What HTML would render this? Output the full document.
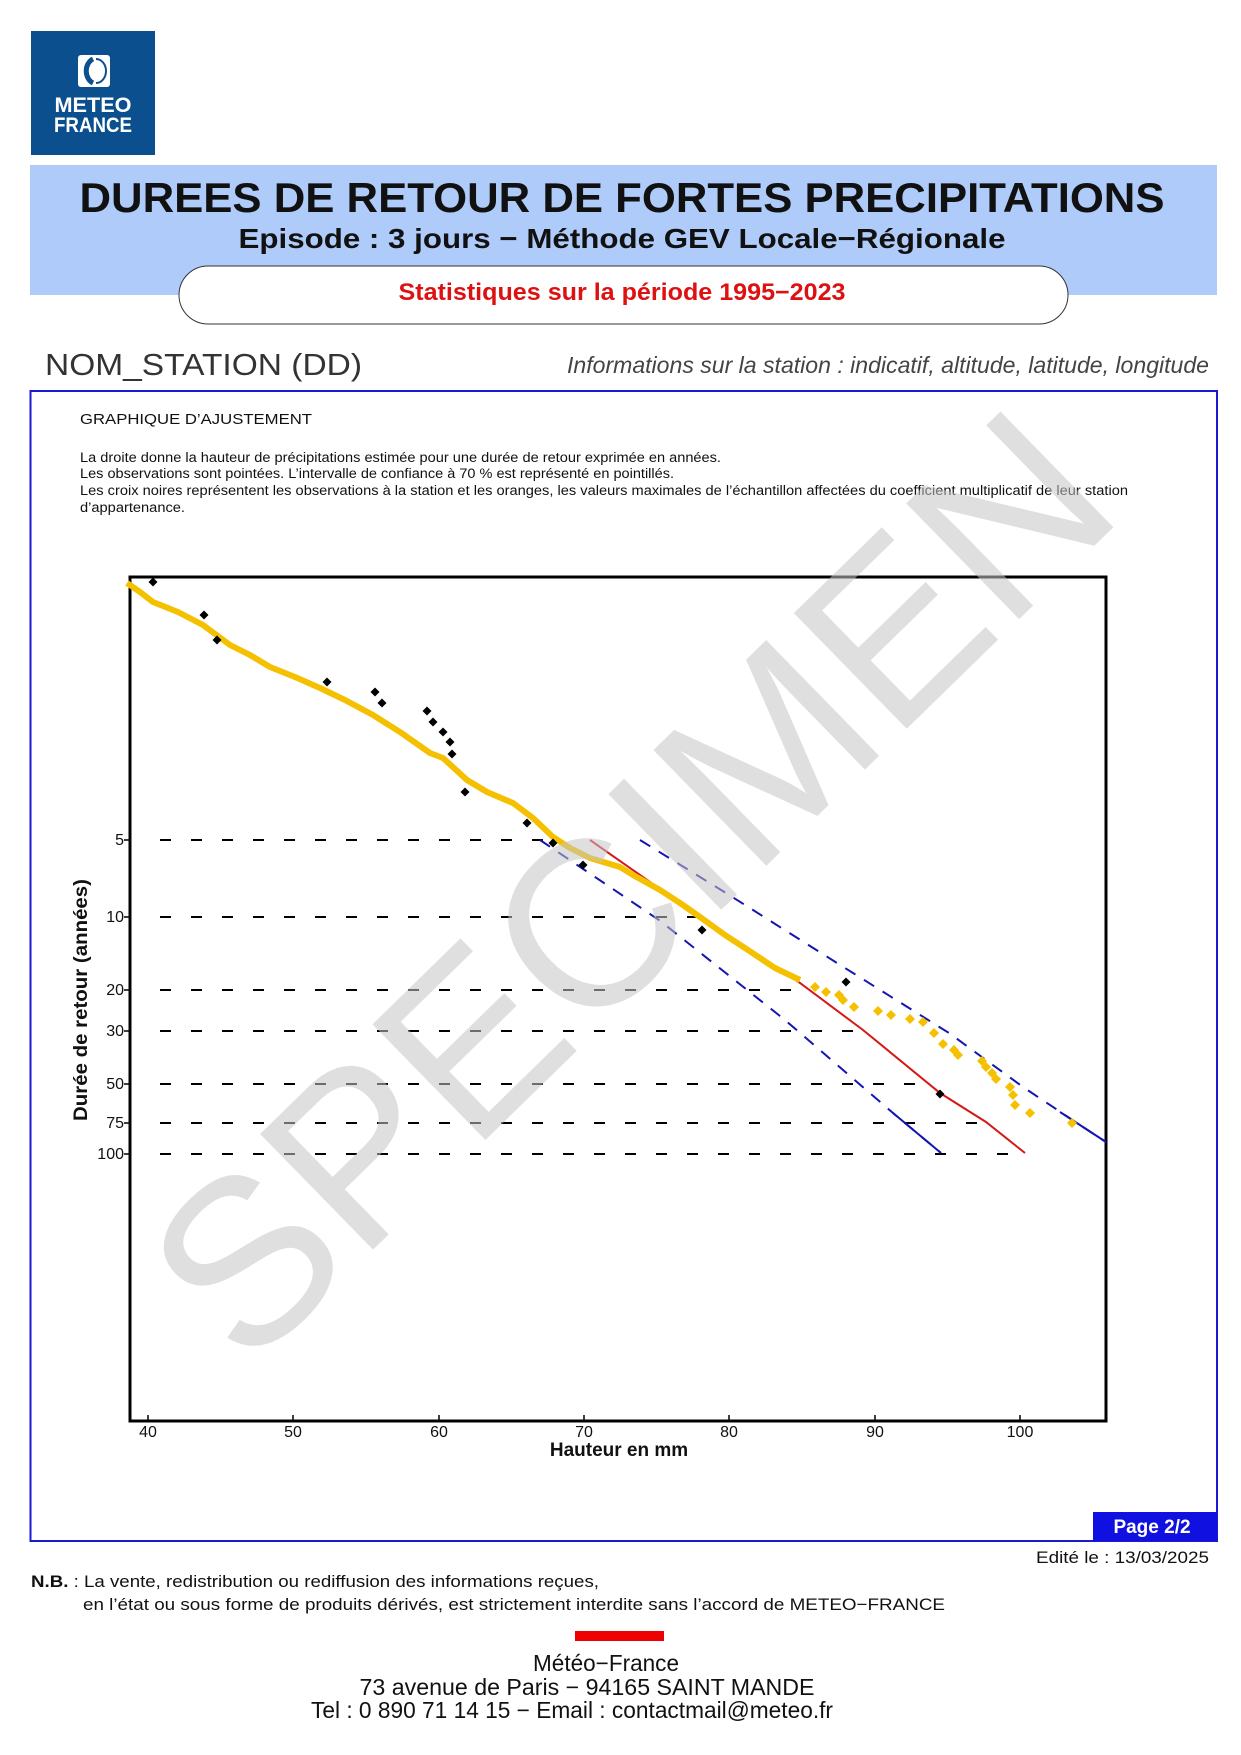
<!DOCTYPE html>
<html><head><meta charset="utf-8"><style>html,body{margin:0;padding:0;background:#fff}svg{display:block}</style></head><body>
<svg xmlns="http://www.w3.org/2000/svg" width="1241" height="1755" viewBox="0 0 1241 1755" font-family="'Liberation Sans', Arial, sans-serif">
<rect width="1241" height="1755" fill="#fff"/>
<!-- logo -->
<rect x="31" y="31" width="124" height="124" fill="#0b4f8f"/>
<rect x="78" y="55" width="32" height="32" rx="3" fill="#fff"/>
<path d="M93 59 A11 13 0 0 0 93 83" fill="none" stroke="#0b4f8f" stroke-width="5"/>
<path d="M96 59 A10 12 0 0 1 96 83" fill="none" stroke="#0b4f8f" stroke-width="2"/>
<text x="93" y="112" font-size="21" font-weight="bold" fill="#fff" text-anchor="middle" textLength="77" lengthAdjust="spacingAndGlyphs">METEO</text>
<text x="93" y="132" font-size="21" font-weight="bold" fill="#fff" text-anchor="middle" textLength="78" lengthAdjust="spacingAndGlyphs">FRANCE</text>
<!-- header -->
<rect x="30" y="165" width="1187" height="130" fill="#aecbfa"/>
<text x="622" y="212" font-size="42" font-weight="bold" fill="#111" text-anchor="middle" textLength="1085" lengthAdjust="spacingAndGlyphs">DUREES DE RETOUR DE FORTES PRECIPITATIONS</text>
<text x="622" y="248" font-size="28" font-weight="bold" fill="#111" text-anchor="middle" textLength="767" lengthAdjust="spacingAndGlyphs">Episode : 3 jours − Méthode GEV Locale−Régionale</text>
<rect x="179" y="266" width="889" height="58" rx="29" fill="#fff" stroke="#333" stroke-width="1"/>
<text x="622" y="300" font-size="24" font-weight="bold" fill="#dd1111" text-anchor="middle" textLength="447" lengthAdjust="spacingAndGlyphs">Statistiques sur la période 1995−2023</text>
<text x="45" y="375" font-size="31" fill="#333" textLength="317" lengthAdjust="spacingAndGlyphs">NOM_STATION (DD)</text>
<text x="1209" y="373" font-size="23" font-style="italic" fill="#444" text-anchor="end" textLength="642" lengthAdjust="spacingAndGlyphs">Informations sur la station : indicatif, altitude, latitude, longitude</text>
<!-- frame -->
<path d="M30.5 391 H1217 V1541 H30.5 Z" fill="none" stroke="#1a1ad0" stroke-width="2"/>
<text x="80" y="424" font-size="15" fill="#111" textLength="232" lengthAdjust="spacingAndGlyphs">GRAPHIQUE D’AJUSTEMENT</text>
<g font-size="13.5" fill="#111">
<text x="80" y="462" textLength="641" lengthAdjust="spacingAndGlyphs">La droite donne la hauteur de précipitations estimée pour une durée de retour exprimée en années.</text>
<text x="80" y="478" textLength="594" lengthAdjust="spacingAndGlyphs">Les observations sont pointées. L’intervalle de confiance à 70 % est représenté en pointillés.</text>
<text x="80" y="495" textLength="1048" lengthAdjust="spacingAndGlyphs">Les croix noires représentent les observations à la station et les oranges, les valeurs maximales de l’échantillon affectées du coefficient multiplicatif de leur station</text>
<text x="80" y="512" textLength="105" lengthAdjust="spacingAndGlyphs">d’appartenance.</text>
</g>
<!-- plot -->
<g stroke="#000" stroke-width="2" stroke-dasharray="11 20" fill="none">
<line x1="160" y1="840" x2="557" y2="840"/>
<line x1="160" y1="917" x2="704" y2="917"/>
<line x1="160" y1="990" x2="800" y2="990"/>
<line x1="160" y1="1031" x2="862" y2="1031"/>
<line x1="160" y1="1084" x2="925" y2="1084"/>
<line x1="160" y1="1123" x2="986" y2="1123"/>
<line x1="160" y1="1154" x2="1020" y2="1154"/>
</g>
<rect x="130" y="577" width="976" height="844" fill="none" stroke="#000" stroke-width="3"/>
<g stroke="#000" stroke-width="1.5">
<line x1="148" y1="1421" x2="148" y2="1415"/><line x1="293" y1="1421" x2="293" y2="1415"/><line x1="439" y1="1421" x2="439" y2="1415"/><line x1="584" y1="1421" x2="584" y2="1415"/><line x1="729" y1="1421" x2="729" y2="1415"/><line x1="875" y1="1421" x2="875" y2="1415"/><line x1="1020" y1="1421" x2="1020" y2="1415"/>
<line x1="124" y1="840" x2="130" y2="840"/><line x1="124" y1="917" x2="130" y2="917"/><line x1="124" y1="990" x2="130" y2="990"/><line x1="124" y1="1031" x2="130" y2="1031"/><line x1="124" y1="1084" x2="130" y2="1084"/><line x1="124" y1="1123" x2="130" y2="1123"/><line x1="124" y1="1154" x2="130" y2="1154"/>
</g>
<g font-size="16" fill="#111" text-anchor="middle">
<text x="148" y="1437">40</text><text x="293" y="1437">50</text><text x="439" y="1437">60</text><text x="584" y="1437">70</text><text x="729" y="1437">80</text><text x="875" y="1437">90</text><text x="1020" y="1437">100</text>
</g>
<g font-size="16" fill="#111" text-anchor="end">
<text x="124" y="845">5</text><text x="124" y="922">10</text><text x="124" y="995">20</text><text x="124" y="1036">30</text><text x="124" y="1089">50</text><text x="124" y="1128">75</text><text x="124" y="1159">100</text>
</g>
<text x="619" y="1456" font-size="19" font-weight="bold" fill="#111" text-anchor="middle">Hauteur en mm</text>
<text transform="translate(87,1000) rotate(-90)" font-size="19" font-weight="bold" fill="#111" text-anchor="middle" textLength="242" lengthAdjust="spacingAndGlyphs">Durée de retour (années)</text>
<!-- CI and fit -->
<polyline points="540,840 659,920 785,1020 893,1113 941,1153" fill="none" stroke="#1515b0" stroke-width="2" stroke-dasharray="12 10"/>
<polyline points="893,1113 941,1153" fill="none" stroke="#1515b0" stroke-width="2"/>
<polyline points="640,840 726,893 837,963 949,1033 1023,1087 1083,1127 1106,1142" fill="none" stroke="#1515b0" stroke-width="2" stroke-dasharray="12 10"/>
<polyline points="1060,1112 1083,1127 1106,1142" fill="none" stroke="#1515b0" stroke-width="2"/>
<polyline points="590,840 700,917 800,983 863,1030 940,1093 986,1122 1025,1153" fill="none" stroke="#d41818" stroke-width="2"/>
<!-- yellow band -->
<polyline points="127,583 140,592 153,602 178,612 203,625 230,645 250,655 270,667 295,677 320,688 345,700 373,715 400,732 430,753 443,758 467,780 487,792 513,803 533,818 553,837 570,848 590,858 620,867 633,875 660,890 680,903 700,917 725,935 748,950 775,968 800,980" fill="none" stroke="#f5c000" stroke-width="6" stroke-linejoin="round"/>
<g fill="#f5c000">
<path d="M0 -5 L5 0 L0 5 L-5 0 Z" transform="translate(815,987)"/>
<path d="M0 -5 L5 0 L0 5 L-5 0 Z" transform="translate(826,992)"/>
<path d="M0 -5 L5 0 L0 5 L-5 0 Z" transform="translate(839,995)"/>
<path d="M0 -5 L5 0 L0 5 L-5 0 Z" transform="translate(843,1000)"/>
<path d="M0 -5 L5 0 L0 5 L-5 0 Z" transform="translate(854,1007)"/>
<path d="M0 -5 L5 0 L0 5 L-5 0 Z" transform="translate(878,1011)"/>
<path d="M0 -5 L5 0 L0 5 L-5 0 Z" transform="translate(891,1015)"/>
<path d="M0 -5 L5 0 L0 5 L-5 0 Z" transform="translate(910,1019)"/>
<path d="M0 -5 L5 0 L0 5 L-5 0 Z" transform="translate(923,1022)"/>
<path d="M0 -5 L5 0 L0 5 L-5 0 Z" transform="translate(934,1033)"/>
<path d="M0 -5 L5 0 L0 5 L-5 0 Z" transform="translate(943,1044)"/>
<path d="M0 -5 L5 0 L0 5 L-5 0 Z" transform="translate(954,1050)"/>
<path d="M0 -5 L5 0 L0 5 L-5 0 Z" transform="translate(958,1055)"/>
<path d="M0 -5 L5 0 L0 5 L-5 0 Z" transform="translate(982,1061)"/>
<path d="M0 -5 L5 0 L0 5 L-5 0 Z" transform="translate(986,1067)"/>
<path d="M0 -5 L5 0 L0 5 L-5 0 Z" transform="translate(992,1073)"/>
<path d="M0 -5 L5 0 L0 5 L-5 0 Z" transform="translate(996,1079)"/>
<path d="M0 -5 L5 0 L0 5 L-5 0 Z" transform="translate(1010,1087)"/>
<path d="M0 -5 L5 0 L0 5 L-5 0 Z" transform="translate(1013,1095)"/>
<path d="M0 -5 L5 0 L0 5 L-5 0 Z" transform="translate(1015,1105)"/>
<path d="M0 -5 L5 0 L0 5 L-5 0 Z" transform="translate(1030,1113)"/>
<path d="M0 -5 L5 0 L0 5 L-5 0 Z" transform="translate(1072,1123)"/>
</g>
<g fill="#000">
<path d="M0 -4.5 L4.5 0 L0 4.5 L-4.5 0 Z" transform="translate(153,582)"/>
<path d="M0 -4.5 L4.5 0 L0 4.5 L-4.5 0 Z" transform="translate(204,615)"/>
<path d="M0 -4.5 L4.5 0 L0 4.5 L-4.5 0 Z" transform="translate(217,640)"/>
<path d="M0 -4.5 L4.5 0 L0 4.5 L-4.5 0 Z" transform="translate(327,682)"/>
<path d="M0 -4.5 L4.5 0 L0 4.5 L-4.5 0 Z" transform="translate(375,692)"/>
<path d="M0 -4.5 L4.5 0 L0 4.5 L-4.5 0 Z" transform="translate(382,703)"/>
<path d="M0 -4.5 L4.5 0 L0 4.5 L-4.5 0 Z" transform="translate(427,711)"/>
<path d="M0 -4.5 L4.5 0 L0 4.5 L-4.5 0 Z" transform="translate(433,722)"/>
<path d="M0 -4.5 L4.5 0 L0 4.5 L-4.5 0 Z" transform="translate(443,732)"/>
<path d="M0 -4.5 L4.5 0 L0 4.5 L-4.5 0 Z" transform="translate(450,742)"/>
<path d="M0 -4.5 L4.5 0 L0 4.5 L-4.5 0 Z" transform="translate(452,754)"/>
<path d="M0 -4.5 L4.5 0 L0 4.5 L-4.5 0 Z" transform="translate(465,792)"/>
<path d="M0 -4.5 L4.5 0 L0 4.5 L-4.5 0 Z" transform="translate(527,823)"/>
<path d="M0 -4.5 L4.5 0 L0 4.5 L-4.5 0 Z" transform="translate(553,843)"/>
<path d="M0 -4.5 L4.5 0 L0 4.5 L-4.5 0 Z" transform="translate(583,865)"/>
<path d="M0 -4.5 L4.5 0 L0 4.5 L-4.5 0 Z" transform="translate(702,930)"/>
<path d="M0 -4.5 L4.5 0 L0 4.5 L-4.5 0 Z" transform="translate(846,982)"/>
<path d="M0 -4.5 L4.5 0 L0 4.5 L-4.5 0 Z" transform="translate(940,1094)"/>
</g>
<!-- watermark -->
<text transform="translate(630,885) rotate(-44.3)" font-size="235" fill="#c4c4c4" fill-opacity="0.55" text-anchor="middle" dominant-baseline="central" textLength="1230" lengthAdjust="spacingAndGlyphs">SPECIMEN</text>
<!-- page box -->
<rect x="1093" y="1512" width="124" height="29" fill="#1010e0"/>
<text x="1152" y="1533" font-size="19" font-weight="bold" fill="#fff" text-anchor="middle">Page 2/2</text>
<text x="1209" y="1563" font-size="17" fill="#111" text-anchor="end" textLength="173" lengthAdjust="spacingAndGlyphs">Edité le : 13/03/2025</text>
<text x="31" y="1587" font-size="17" fill="#111" textLength="568" lengthAdjust="spacingAndGlyphs"><tspan font-weight="bold">N.B. </tspan>: La vente, redistribution ou rediffusion des informations reçues,</text>
<text x="83" y="1610" font-size="17" fill="#111" textLength="862" lengthAdjust="spacingAndGlyphs">en l’état ou sous forme de produits dérivés, est strictement interdite sans l’accord de METEO−FRANCE</text>
<rect x="575" y="1631" width="89" height="10" fill="#ee0000"/>
<g font-size="23" fill="#111" text-anchor="middle">
<text x="606" y="1671" textLength="146" lengthAdjust="spacingAndGlyphs">Météo−France</text>
<text x="587" y="1695" textLength="455" lengthAdjust="spacingAndGlyphs">73 avenue de Paris − 94165  SAINT MANDE</text>
<text x="572" y="1718" textLength="522" lengthAdjust="spacingAndGlyphs">Tel : 0 890 71 14 15 − Email : contactmail@meteo.fr</text>
</g>
</svg>
</body></html>
